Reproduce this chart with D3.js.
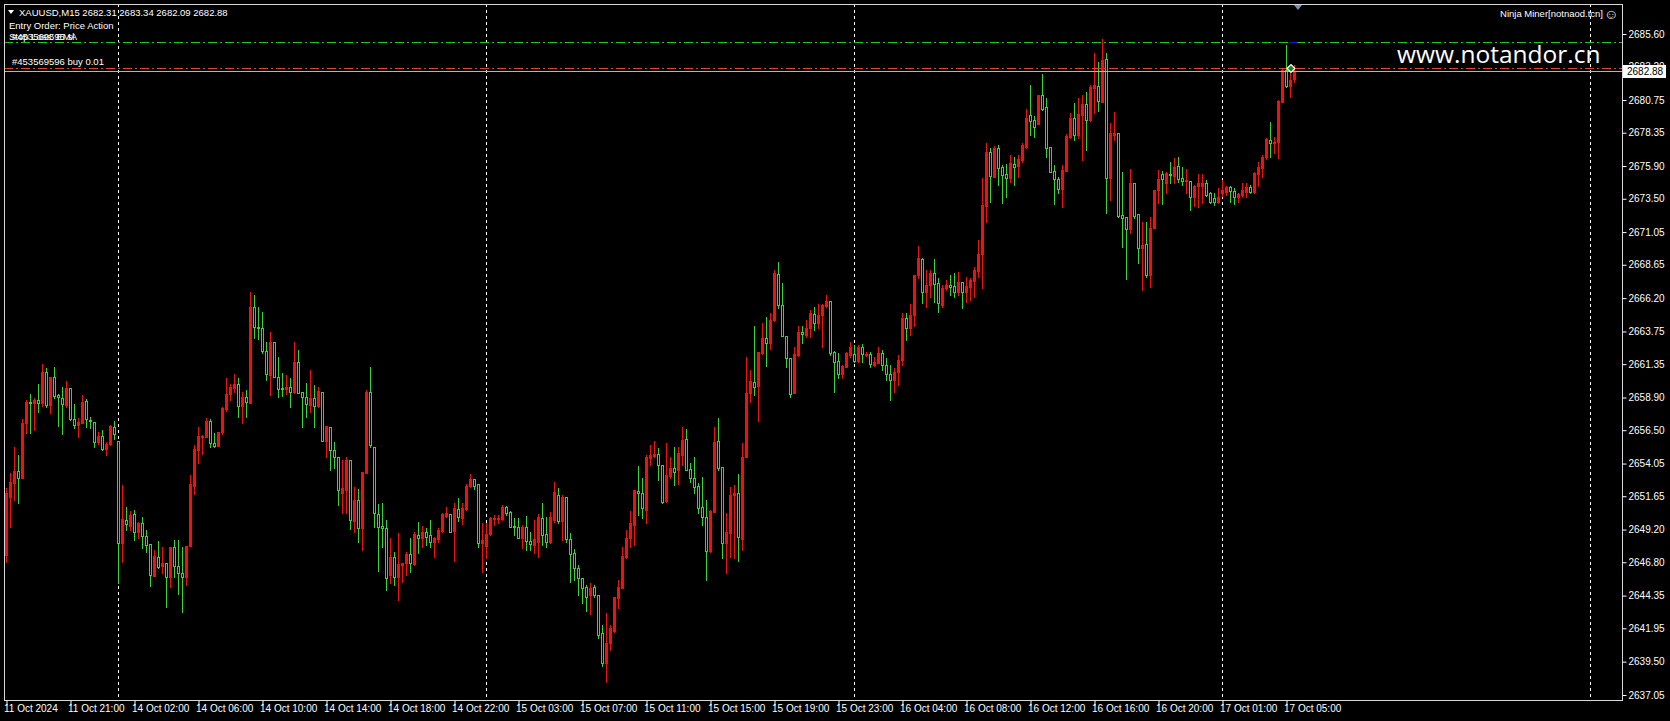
<!DOCTYPE html>
<html>
<head>
<meta charset="utf-8">
<script src="https://cdn.jsdelivr.net/npm/d3@7"></script>
<style>
  body { margin: 0; background: #000; }
  svg text { font-family: "Liberation Sans", Arial, sans-serif; }
</style>
</head>
<body>
<svg id="chart" width="1670" height="721"></svg>
<script>
/*global d3*/
// XAUUSD M15 bars, 11 Oct 17:00 .. 17 Oct 05:30
const opens = [
  2647.33, 2651.59, 2652.62, 2653.50, 2652.99, 2657.02, 2658.56, 2658.49, 2658.71, 2658.49, // 0
  2660.77, 2658.34, 2660.40, 2659.08, 2658.86, 2658.34, 2659.60, 2657.31, 2656.87, 2657.02, // 10
  2658.64, 2657.24, 2657.09, 2655.63, 2656.07, 2655.12, 2655.48, 2656.73, 2655.70, 2648.21, // 20
  2649.90, 2649.46, 2650.34, 2649.02, 2649.68, 2648.72, 2648.14, 2645.79, 2647.18, 2646.52, // 30
  2646.74, 2645.71, 2647.92, 2646.52, 2646.01, 2645.71, 2647.99, 2652.40, 2655.04, 2656.00, // 40
  2656.00, 2657.17, 2655.56, 2655.34, 2656.36, 2658.05, 2659.16, 2659.60, 2659.89, 2658.27, // 50
  2658.93, 2658.49, 2665.55, 2664.08, 2664.01, 2662.32, 2660.55, 2662.98, 2660.40, 2659.60, // 60
  2659.52, 2659.67, 2659.30, 2661.51, 2659.30, 2658.93, 2658.34, 2658.86, 2658.27, 2659.30, // 70
  2655.70, 2656.73, 2655.04, 2654.53, 2651.88, 2652.10, 2654.31, 2649.83, 2651.37, 2649.31, // 80
  2653.35, 2659.30, 2655.27, 2650.34, 2649.46, 2649.31, 2645.86, 2647.18, 2645.71, 2646.59, // 90
  2646.74, 2647.40, 2646.67, 2648.80, 2648.58, 2649.02, 2648.80, 2648.28, 2648.50, 2649.09, // 100
  2650.19, 2650.34, 2649.09, 2650.71, 2650.05, 2650.71, 2652.40, 2652.91, 2652.55, 2648.21, // 110
  2647.99, 2648.87, 2649.98, 2649.98, 2649.98, 2650.85, 2650.49, 2649.46, 2649.39, 2648.58, // 120
  2649.39, 2648.36, 2648.06, 2648.28, 2650.05, 2648.87, 2648.28, 2649.90, 2651.74, 2649.83, // 130
  2651.59, 2648.50, 2647.48, 2646.37, 2645.64, 2644.98, 2644.39, 2644.98, 2644.39, 2641.60, // 140
  2639.39, 2640.87, 2641.75, 2644.17, 2644.90, 2647.18, 2648.58, 2649.53, 2652.03, 2651.88, // 150
  2650.63, 2654.45, 2654.60, 2654.75, 2653.94, 2651.30, 2653.13, 2653.72, 2653.57, 2654.67, // 160
  2655.85, 2653.65, 2652.99, 2652.40, 2650.85, 2650.12, 2647.63, 2650.49, 2655.70, 2653.79, // 170
  2648.21, 2648.94, 2651.74, 2651.88, 2648.50, 2654.53, 2659.23, 2660.04, 2659.74, 2662.17, // 180
  2663.27, 2662.90, 2664.59, 2667.97, 2665.69, 2663.42, 2661.80, 2659.23, 2662.02, 2663.71, // 190
  2663.49, 2664.01, 2665.03, 2664.37, 2664.96, 2665.62, 2665.99, 2662.24, 2661.58, 2660.62, // 200
  2661.14, 2662.02, 2662.10, 2661.58, 2662.61, 2662.02, 2662.10, 2661.29, 2661.43, 2662.17, // 210
  2661.29, 2660.62, 2660.18, 2660.77, 2661.65, 2664.74, 2664.01, 2664.96, 2667.90, 2669.07, // 220
  2666.65, 2667.16, 2668.04, 2667.31, 2665.69, 2666.94, 2667.16, 2667.09, 2666.65, 2667.38, // 230
  2666.65, 2667.02, 2667.46, 2668.19, 2669.44, 2672.97, 2676.93, 2675.10, 2677.23, 2675.83, // 240
  2675.32, 2675.02, 2676.05, 2675.90, 2676.34, 2677.30, 2679.65, 2679.28, 2678.99, 2681.12, // 250
  2680.24, 2677.30, 2675.54, 2674.95, 2674.21, 2675.54, 2678.04, 2679.43, 2678.18, 2679.65, // 260
  2680.46, 2679.28, 2681.63, 2681.78, 2680.61, 2683.76, 2675.02, 2678.18, 2678.33, 2672.30, // 270
  2672.16, 2671.28, 2674.66, 2672.38, 2669.88, 2670.17, 2667.90, 2671.35, 2674.14, 2675.32, // 280
  2674.66, 2675.32, 2675.17, 2675.90, 2675.02, 2674.80, 2674.80, 2673.63, 2674.44, 2674.44, // 290
  2674.66, 2673.92, 2673.56, 2673.26, 2673.92, 2674.00, 2674.36, 2674.07, 2673.63, 2673.78, // 300
  2674.00, 2674.36, 2674.00, 2675.32, 2675.76, 2676.56, 2677.81, 2677.59, 2677.67, 2680.61, // 310
  2682.96, 2681.78, 2682.31 // 320
]
const highs = [
  2652.25, 2653.35, 2655.27, 2654.67, 2657.31, 2658.71, 2659.16, 2658.86, 2659.89, 2661.36,
  2661.07, 2660.40, 2661.14, 2659.16, 2659.67, 2660.11, 2659.60, 2658.42, 2657.39, 2659.08,
  2658.78, 2657.46, 2657.09, 2656.36, 2656.51, 2655.63, 2656.87, 2657.17, 2655.70, 2652.47,
  2650.85, 2650.56, 2650.63, 2649.75, 2650.12, 2649.16, 2648.14, 2647.70, 2648.36, 2647.92,
  2646.74, 2647.92, 2648.43, 2648.43, 2647.92, 2647.99, 2653.21, 2655.41, 2656.73, 2656.14,
  2657.39, 2657.31, 2656.29, 2656.36, 2658.20, 2660.33, 2659.89, 2660.62, 2660.33, 2659.30,
  2659.45, 2666.65, 2666.43, 2665.55, 2665.18, 2662.98, 2663.71, 2662.98, 2661.87, 2660.70,
  2660.55, 2660.33, 2662.98, 2662.39, 2659.30, 2659.96, 2660.92, 2659.82, 2659.67, 2659.30,
  2656.80, 2656.73, 2655.63, 2654.53, 2654.31, 2654.53, 2654.31, 2652.32, 2652.18, 2653.43,
  2659.45, 2661.14, 2655.27, 2651.07, 2651.15, 2649.90, 2648.58, 2647.55, 2648.94, 2646.74,
  2647.55, 2648.58, 2649.02, 2649.75, 2649.46, 2649.31, 2649.90, 2648.65, 2649.31, 2650.41,
  2650.85, 2650.34, 2651.15, 2651.51, 2651.15, 2652.55, 2653.28, 2652.91, 2652.55, 2649.68,
  2649.68, 2650.12, 2650.27, 2650.27, 2651.01, 2650.93, 2650.56, 2650.05, 2650.05, 2649.53,
  2650.19, 2649.02, 2649.90, 2650.34, 2651.15, 2650.12, 2650.49, 2652.69, 2652.25, 2651.74,
  2651.59, 2648.94, 2647.77, 2646.59, 2645.64, 2645.13, 2645.27, 2645.13, 2644.39, 2642.19,
  2643.07, 2642.19, 2644.24, 2645.49, 2647.92, 2649.16, 2650.56, 2652.10, 2653.87, 2652.99,
  2654.67, 2655.41, 2655.70, 2655.19, 2653.94, 2655.56, 2654.53, 2655.27, 2655.27, 2656.73,
  2656.58, 2654.09, 2654.53, 2652.62, 2653.06, 2651.37, 2650.63, 2656.73, 2657.39, 2653.79,
  2650.41, 2652.32, 2652.47, 2653.28, 2655.56, 2661.87, 2660.92, 2664.15, 2662.24, 2664.37,
  2664.81, 2665.11, 2668.26, 2668.85, 2667.31, 2663.42, 2661.80, 2662.61, 2664.15, 2664.15,
  2664.59, 2665.33, 2665.55, 2665.77, 2665.77, 2666.43, 2665.99, 2662.32, 2662.17, 2661.29,
  2662.24, 2662.98, 2662.76, 2662.76, 2662.83, 2662.24, 2662.24, 2661.87, 2662.61, 2662.39,
  2661.80, 2661.29, 2661.07, 2662.02, 2665.11, 2665.11, 2665.77, 2667.90, 2670.03, 2669.15,
  2668.26, 2668.26, 2669.07, 2667.68, 2667.16, 2667.53, 2667.90, 2668.04, 2668.12, 2667.38,
  2667.75, 2667.68, 2668.49, 2670.47, 2675.02, 2677.60, 2677.23, 2677.37, 2677.45, 2675.98,
  2676.05, 2676.71, 2676.56, 2676.71, 2677.60, 2680.09, 2681.85, 2679.58, 2681.12, 2682.66,
  2680.90, 2677.30, 2675.98, 2675.10, 2675.98, 2678.26, 2679.80, 2680.53, 2680.90, 2681.12,
  2681.34, 2681.85, 2684.20, 2683.54, 2685.23, 2684.20, 2679.06, 2679.87, 2678.33, 2675.46,
  2672.16, 2675.68, 2674.66, 2672.38, 2671.79, 2671.79, 2672.16, 2674.14, 2675.61, 2675.54,
  2675.46, 2676.20, 2676.49, 2676.56, 2675.83, 2675.68, 2674.80, 2674.51, 2675.32, 2675.32,
  2674.88, 2674.00, 2673.92, 2674.29, 2674.88, 2674.44, 2674.44, 2674.29, 2673.92, 2674.66,
  2674.66, 2674.51, 2675.46, 2676.20, 2676.71, 2677.96, 2679.14, 2678.04, 2680.75, 2683.03,
  2684.79, 2683.17, 2683.34
]
const lows = [
  2646.81, 2649.39, 2651.37, 2651.15, 2652.99, 2656.29, 2656.29, 2656.51, 2657.83, 2658.27,
  2658.20, 2657.76, 2658.86, 2656.80, 2656.21, 2658.20, 2657.24, 2656.65, 2656.00, 2657.02,
  2656.73, 2656.65, 2655.27, 2655.48, 2655.04, 2654.67, 2655.41, 2655.85, 2645.27, 2646.81,
  2649.16, 2649.16, 2648.43, 2648.58, 2647.85, 2647.55, 2645.05, 2645.79, 2646.37, 2646.01,
  2643.51, 2644.98, 2645.71, 2644.46, 2643.14, 2645.13, 2647.99, 2651.81, 2654.09, 2654.75,
  2656.00, 2655.27, 2655.27, 2655.34, 2656.21, 2657.90, 2658.71, 2659.30, 2657.46, 2657.02,
  2657.46, 2658.49, 2663.27, 2663.20, 2662.17, 2660.18, 2659.08, 2660.40, 2658.93, 2659.01,
  2659.16, 2658.20, 2659.23, 2659.23, 2656.73, 2657.46, 2657.83, 2656.73, 2658.20, 2655.70,
  2654.53, 2653.57, 2653.72, 2651.01, 2650.41, 2650.41, 2649.24, 2649.02, 2648.28, 2647.70,
  2653.35, 2655.27, 2649.39, 2646.15, 2647.92, 2644.76, 2645.27, 2645.13, 2644.02, 2645.35,
  2645.86, 2646.08, 2646.59, 2647.48, 2647.92, 2648.06, 2647.92, 2647.18, 2648.28, 2649.02,
  2650.12, 2649.02, 2646.89, 2649.83, 2649.61, 2650.63, 2652.32, 2652.18, 2647.92, 2646.08,
  2647.11, 2648.80, 2649.53, 2649.68, 2649.90, 2650.27, 2649.39, 2648.80, 2648.58, 2647.85,
  2647.70, 2647.70, 2647.48, 2647.18, 2648.06, 2647.92, 2648.21, 2649.75, 2649.68, 2648.43,
  2648.28, 2645.35, 2645.49, 2644.39, 2643.80, 2643.21, 2642.99, 2644.24, 2641.23, 2639.17,
  2638.00, 2640.35, 2641.67, 2643.44, 2644.90, 2647.11, 2647.92, 2648.06, 2650.27, 2650.05,
  2649.68, 2653.94, 2654.53, 2652.84, 2651.15, 2651.23, 2652.99, 2652.47, 2652.55, 2653.94,
  2653.57, 2652.69, 2651.88, 2650.41, 2649.53, 2645.49, 2647.55, 2650.49, 2653.57, 2647.11,
  2646.01, 2647.18, 2647.11, 2646.89, 2647.70, 2654.53, 2658.56, 2659.08, 2657.17, 2662.10,
  2661.21, 2662.46, 2664.52, 2665.47, 2663.42, 2661.14, 2658.93, 2659.23, 2661.95, 2662.90,
  2663.34, 2663.34, 2663.86, 2664.01, 2662.61, 2665.55, 2662.02, 2659.30, 2660.33, 2660.33,
  2661.14, 2661.87, 2661.51, 2661.51, 2661.51, 2661.95, 2661.14, 2661.21, 2661.43, 2660.92,
  2660.18, 2658.71, 2659.30, 2659.82, 2661.29, 2663.12, 2663.49, 2664.15, 2667.68, 2665.84,
  2665.55, 2666.28, 2665.91, 2665.18, 2665.55, 2666.79, 2666.43, 2666.28, 2666.43, 2665.47,
  2665.91, 2666.06, 2666.28, 2667.75, 2666.94, 2671.79, 2673.26, 2675.10, 2674.51, 2673.19,
  2673.63, 2674.73, 2674.51, 2675.10, 2676.20, 2677.23, 2678.18, 2678.04, 2678.99, 2680.02,
  2676.56, 2675.46, 2673.12, 2673.92, 2672.89, 2675.54, 2677.96, 2677.81, 2677.96, 2676.34,
  2677.08, 2679.21, 2679.80, 2679.95, 2680.61, 2672.45, 2673.41, 2677.81, 2672.16, 2669.95,
  2667.60, 2670.99, 2672.08, 2668.78, 2666.79, 2667.75, 2667.02, 2671.35, 2673.19, 2673.12,
  2673.92, 2674.66, 2674.66, 2674.73, 2674.51, 2673.92, 2672.67, 2672.97, 2672.89, 2673.19,
  2673.70, 2673.19, 2673.04, 2673.19, 2673.70, 2673.78, 2673.26, 2673.12, 2673.26, 2673.63,
  2673.63, 2673.92, 2673.92, 2674.44, 2675.10, 2676.42, 2676.56, 2676.86, 2676.49, 2680.61,
  2681.71, 2680.97, 2682.09
]
const closes = [
  2651.88, 2652.69, 2653.50, 2652.99, 2657.02, 2658.56, 2658.49, 2658.71, 2658.49, 2660.77,
  2658.34, 2660.40, 2659.01, 2658.93, 2658.42, 2659.60, 2657.31, 2656.87, 2657.09, 2658.56,
  2657.31, 2657.17, 2655.63, 2656.07, 2655.12, 2655.48, 2656.80, 2656.21, 2648.21, 2649.98,
  2649.61, 2650.27, 2649.02, 2649.68, 2648.72, 2648.06, 2645.86, 2647.26, 2646.45, 2646.74,
  2645.71, 2647.92, 2646.52, 2646.01, 2645.71, 2647.99, 2652.55, 2655.12, 2656.07, 2656.07,
  2657.17, 2655.56, 2655.34, 2656.36, 2658.12, 2659.16, 2659.67, 2659.89, 2658.27, 2658.93,
  2658.56, 2665.55, 2664.08, 2664.01, 2662.32, 2660.62, 2662.98, 2660.40, 2659.52, 2659.52,
  2659.67, 2659.30, 2661.51, 2659.23, 2658.93, 2658.42, 2658.86, 2658.27, 2659.38, 2655.70,
  2656.80, 2655.04, 2654.53, 2652.10, 2652.25, 2654.31, 2649.90, 2651.37, 2649.31, 2653.43,
  2659.30, 2655.41, 2650.41, 2649.39, 2649.31, 2645.64, 2647.18, 2645.71, 2646.67, 2646.74,
  2647.40, 2646.74, 2648.87, 2648.58, 2649.02, 2648.65, 2648.28, 2648.58, 2649.16, 2650.34,
  2650.41, 2649.02, 2650.78, 2650.12, 2650.78, 2652.40, 2652.91, 2652.40, 2648.21, 2648.43,
  2648.87, 2650.05, 2650.05, 2650.05, 2650.85, 2650.41, 2649.39, 2649.39, 2648.58, 2649.39,
  2648.36, 2648.14, 2648.50, 2650.12, 2648.80, 2648.28, 2650.12, 2651.96, 2649.83, 2651.59,
  2648.50, 2647.40, 2646.37, 2645.64, 2644.90, 2644.24, 2644.90, 2644.39, 2641.45, 2639.39,
  2640.87, 2641.97, 2644.24, 2644.98, 2647.26, 2648.58, 2649.68, 2652.10, 2651.88, 2650.78,
  2654.53, 2654.67, 2654.75, 2653.94, 2651.23, 2653.21, 2653.72, 2653.43, 2654.82, 2655.78,
  2653.57, 2652.99, 2652.32, 2650.78, 2650.12, 2647.63, 2650.56, 2655.63, 2653.72, 2648.21,
  2649.02, 2651.74, 2651.88, 2648.65, 2654.53, 2659.23, 2660.11, 2659.67, 2662.24, 2663.27,
  2662.90, 2664.59, 2668.04, 2665.69, 2663.42, 2661.80, 2659.16, 2662.10, 2663.71, 2663.56,
  2664.01, 2665.11, 2664.37, 2664.96, 2665.69, 2665.99, 2662.17, 2661.51, 2660.62, 2661.21,
  2662.17, 2662.61, 2661.58, 2662.61, 2662.10, 2662.10, 2661.36, 2661.51, 2662.17, 2661.29,
  2660.62, 2660.18, 2660.77, 2661.65, 2664.74, 2664.01, 2664.96, 2667.90, 2669.15, 2666.65,
  2667.16, 2668.04, 2667.24, 2665.84, 2666.94, 2667.16, 2667.02, 2666.65, 2667.38, 2666.65,
  2667.09, 2667.53, 2668.26, 2669.44, 2673.04, 2676.93, 2675.17, 2677.23, 2675.76, 2675.24,
  2675.02, 2676.13, 2675.83, 2676.42, 2677.45, 2679.43, 2679.21, 2678.77, 2681.12, 2680.09,
  2677.23, 2675.46, 2674.95, 2674.21, 2675.61, 2678.11, 2679.43, 2678.18, 2679.73, 2680.46,
  2679.28, 2681.71, 2681.85, 2680.68, 2683.69, 2675.02, 2678.33, 2678.33, 2672.23, 2672.08,
  2671.28, 2674.66, 2672.23, 2669.88, 2670.10, 2667.90, 2671.35, 2674.14, 2674.95, 2674.95,
  2675.39, 2675.24, 2675.83, 2674.95, 2674.80, 2674.88, 2673.63, 2674.44, 2674.66, 2674.66,
  2673.78, 2673.26, 2673.26, 2673.63, 2674.14, 2674.36, 2674.07, 2673.63, 2673.85, 2674.14,
  2674.36, 2674.00, 2675.39, 2675.83, 2676.56, 2677.89, 2677.59, 2677.67, 2680.68, 2682.96,
  2681.78, 2682.22, 2682.88
]

const priceTicks = ["2685.60", "2683.20", "2680.75", "2678.35", "2675.90", "2673.50", "2671.05",
  "2668.65", "2666.20", "2663.75", "2661.35", "2658.90", "2656.50", "2654.05", "2651.65",
  "2649.20", "2646.80", "2644.35", "2641.95", "2639.50", "2637.05"]
const timeLabels = ["11 Oct 2024", "11 Oct 21:00", "14 Oct 02:00", "14 Oct 06:00", "14 Oct 10:00",
  "14 Oct 14:00", "14 Oct 18:00", "14 Oct 22:00", "15 Oct 03:00", "15 Oct 07:00", "15 Oct 11:00",
  "15 Oct 15:00", "15 Oct 19:00", "15 Oct 23:00", "16 Oct 04:00", "16 Oct 08:00", "16 Oct 12:00",
  "16 Oct 16:00", "16 Oct 20:00", "17 Oct 01:00", "17 Oct 05:00"]
const labelEvery = 16 // bars between time labels
const dayStarts = [28, 120, 212, 304, 396] // bar index of each 01:00 session open

const symbolInfo = "XAUUSD,M15  2682.31 2683.34 2682.09 2682.88"
const takeProfit = 2685.0
const orderPrice = 2683.1
const bidPrice = 2682.88

if (![opens, highs, lows].every(a => a.length === closes.length))
  throw new Error("length mismatch " + [opens.length, highs.length, lows.length, closes.length])

const svg = d3.select("#chart")
const frame = { left: 4, top: 4, right: 1622, bottom: 700 }
const bullColor = "#f01010"
const bearColor = "#3ad13a"
const fontSize = 10

const x = d3.scaleLinear().domain([0, 1]).range([6, 10])
const y = d3.scaleLinear().domain([2637.05, 2685.6]).range([695, 34])
const ry = v => Math.round(y(v))

svg.append("rect").attr("width", 1670).attr("height", 721).attr("fill", "#000")

//day separators
svg.append("g")
  .selectAll("line")
  .data(dayStarts)
  .join("line")
  .attr("x1", d => x(d) + 0.5)
  .attr("x2", d => x(d) + 0.5)
  .attr("y1", frame.top)
  .attr("y2", frame.bottom)
  .attr("stroke", "#fff")
  .attr("stroke-dasharray", "3,3")

//candles
const bars = closes.map((c, i) => ({ i, o: opens[i], h: highs[i], l: lows[i], c }))
const cg = svg.append("g").attr("shape-rendering", "crispEdges")

cg.selectAll(".wick")
  .data(bars)
  .join("rect")
  .attr("class", "wick")
  .attr("x", d => x(d.i))
  .attr("y", d => ry(d.h))
  .attr("width", 1)
  .attr("height", d => ry(d.l) - ry(d.h) + 1)
  .attr("fill", d => (d.c > d.o ? bullColor : bearColor))

cg.selectAll(".body")
  .data(bars)
  .join("rect")
  .attr("class", "body")
  .attr("x", d => x(d.i) - 1)
  .attr("y", d => Math.min(ry(d.o), ry(d.c)))
  .attr("width", 3)
  .attr("height", d => Math.abs(ry(d.o) - ry(d.c)) + 1)
  .attr("fill", d => (d.c > d.o ? bullColor : bearColor))

//hollow bear bodies
cg.selectAll(".hole")
  .data(bars.filter(d => d.c <= d.o && ry(d.c) - ry(d.o) >= 2))
  .join("rect")
  .attr("class", "hole")
  .attr("x", d => x(d.i))
  .attr("y", d => ry(d.o) + 1)
  .attr("width", 1)
  .attr("height", d => ry(d.c) - ry(d.o) - 1)
  .attr("fill", "#000")

//order levels
const levels = [
  { p: takeProfit, color: "#22c322", dash: "9,3,2,3" },
  { p: orderPrice, color: "#d8482a", dash: "9,3,2,3" },
  { p: bidPrice, color: "#b4b4b4", dash: null },
]
svg.append("g")
  .selectAll("line")
  .data(levels)
  .join("line")
  .attr("x1", frame.left)
  .attr("x2", frame.right)
  .attr("y1", d => ry(d.p) + 0.5)
  .attr("y2", d => ry(d.p) + 0.5)
  .attr("stroke", d => d.color)
  .attr("stroke-dasharray", d => d.dash)

svg.append("line")
  .attr("x1", x(321) - 1).attr("x2", x(322) + 3)
  .attr("y1", ry(takeProfit) + 0.5).attr("y2", ry(takeProfit) + 0.5)
  .attr("stroke", "#1020d0")

//trade arrow
const ax = x(321) + 1, ay = ry(orderPrice) + 0.5
svg.append("path")
  .attr("d", `M${ax - 4},${ay} L${ax},${ay - 4} L${ax + 4},${ay} L${ax},${ay + 4} Z`)
  .attr("fill", "#1a8a1a")
  .attr("stroke", "#fff")
  .attr("stroke-width", 1.2)

//chart frame
svg.append("rect")
  .attr("x", frame.left + 0.5)
  .attr("y", frame.top + 0.5)
  .attr("width", frame.right - frame.left)
  .attr("height", frame.bottom - frame.top)
  .attr("fill", "none")
  .attr("stroke", "#d8d8d8")

//shift marker
const sx = x(323)
svg.append("path")
  .attr("d", `M${sx - 4},${frame.top + 1} L${sx + 4},${frame.top + 1} L${sx},${frame.top + 6} Z`)
  .attr("fill", "#8090b4")

//price axis
const yAxis = svg.append("g")
  .attr("transform", `translate(${frame.right + 0.5},0)`)
  .call(d3.axisRight(y).tickValues(priceTicks.map(Number)).tickFormat(d3.format(".2f")).tickSize(4).tickPadding(2))
yAxis.select(".domain").remove()
yAxis.selectAll("line").attr("stroke", "#fff")
yAxis.selectAll("text").attr("fill", "#fff").attr("font-size", fontSize).attr("font-family", "Liberation Sans")

//bid price label
svg.append("rect")
  .attr("x", frame.right + 1)
  .attr("y", ry(bidPrice) - 6)
  .attr("width", 43)
  .attr("height", 13)
  .attr("fill", "#fff")
svg.append("text")
  .attr("x", frame.right + 5)
  .attr("y", ry(bidPrice) + 4)
  .attr("font-size", fontSize)
  .attr("fill", "#000")
  .text(bidPrice.toFixed(2))

//time axis
const xAxis = svg.append("g")
  .attr("transform", `translate(0.5,${frame.bottom + 0.5})`)
  .call(d3.axisBottom(x).tickValues(timeLabels.map((d, k) => k * labelEvery)).tickFormat((d, k) => timeLabels[k]).tickSize(5))
xAxis.select(".domain").remove()
xAxis.selectAll("line").attr("stroke", "#fff")
xAxis.selectAll("text")
  .attr("fill", "#fff")
  .attr("font-size", fontSize)
  .attr("font-family", "Liberation Sans")
  .attr("text-anchor", "start")
  .attr("x", -3)
  .attr("y", 4)

//header texts
const info = svg.append("g").attr("fill", "#fff").attr("font-size", 9.5)
info.append("path").attr("d", "M8,10 L14,10 L11,14 Z")
info.append("text").attr("x", 19).attr("y", 16).text(symbolInfo)
info.append("text").attr("x", 9).attr("y", 29).text("Entry Order: Price Action")
info.append("text").attr("x", 9).attr("y", 40).text("Stop Loss: EMA")
info.append("text").attr("x", 12).attr("y", 40).text("#453569596 sl")
info.append("text").attr("x", 12).attr("y", 65).text("#453569596 buy 0.01")
info.append("text").attr("x", 1603).attr("y", 17).attr("text-anchor", "end").text("Ninja Miner[notnaod.tcn]")
info.append("text").attr("x", 1604).attr("y", 19).attr("font-size", 14).attr("font-family", "DejaVu Sans").text("\u263A")

svg.append("text")
  .attr("x", 1397)
  .attr("y", 63)
  .attr("fill", "#fff")
  .attr("font-size", 24.5)
  .style("font-family", "'Open Sans', sans-serif")
  .text("www.notandor.cn")
</script>
</body>
</html>
